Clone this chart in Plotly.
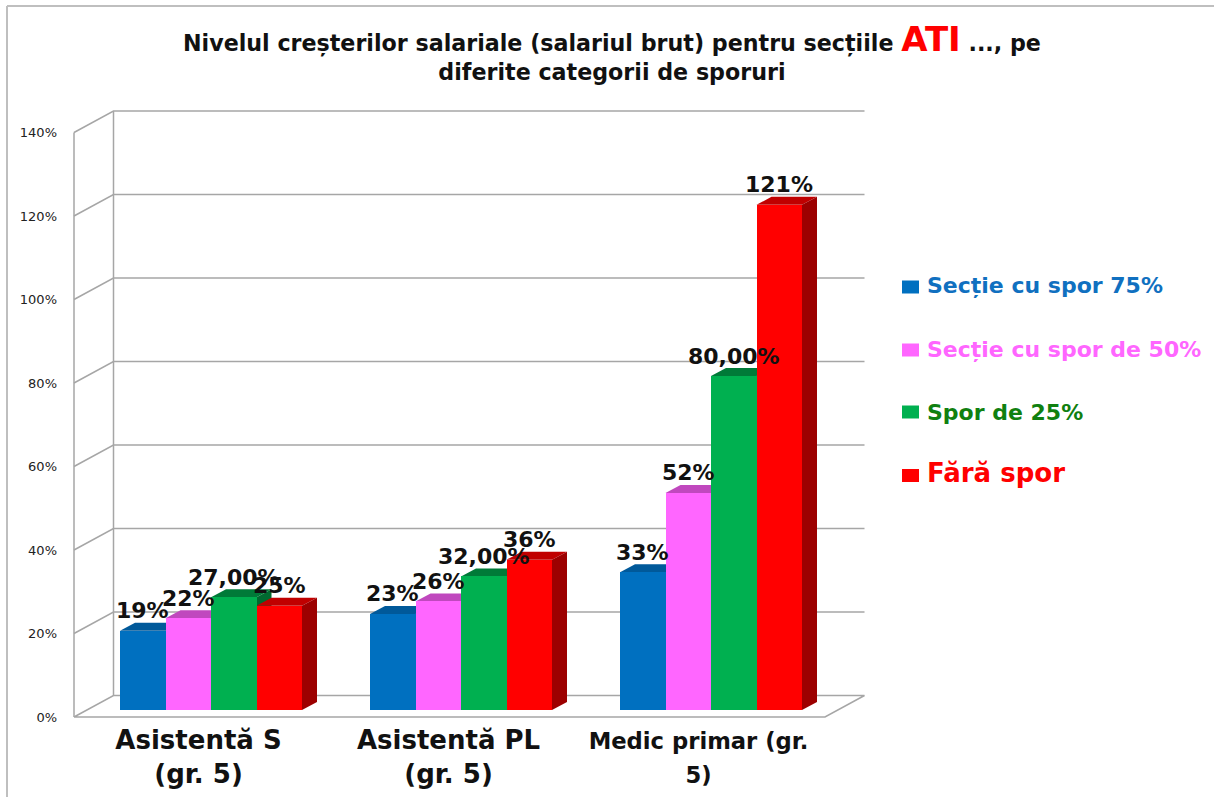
import plotly.graph_objects as go

categories = ["<b>Asistentă S<br>(gr. 5)</b>", "<b>Asistentă PL<br>(gr. 5)</b>",
              '<b><span style="font-size:22.7px">Medic primar (gr.</span><br><span style="font-size:22.7px">5)</span></b>']
series_names = ["Secție cu spor 75%", "Secție cu spor de 50%", "Spor de 25%", "Fără spor"]
v75 = [19, 23, 33]
v50 = [22, 26, 52]
v25 = [27, 32, 80]
v0 = [25, 36, 121]
labels75 = ["19%", "23%", "33%"]
labels50 = ["22%", "26%", "52%"]
labels25 = ["27,00%", "32,00%", "80,00%"]
labels0 = ["25%", "36%", "121%"]
tick_values = [0, 20, 40, 60, 80, 100, 120, 140]
tick_labels = ["0%", "20%", "40%", "60%", "80%", "100%", "120%", "140%"]

values = [v75, v50, v25, v0]
texts = [labels75, labels50, labels25, labels0]
front = ["#0070C0", "#FF66FF", "#00B050", "#FF0000"]
top = ["#00599A", "#C048BE", "#007A38", "#C00000"]
side = ["#004E86", "#A03CA0", "#006A30", "#9C0000"]
legend_colors = ["#1070C0", "#FF66FF", "#108010", "#FF0000"]

W, H = 1214, 797
L, R, T, B = 60, 880, 95, 720   # plot area in window pixels
BASE_PX = 710.0
PX_PER_UNIT = 4.175
GROUP_PX = 250.0
FIRST_CENTER_PX = 211.0
BAR_PX = 45.5
FONT = "DejaVu Sans"


def xv(px):
    return (px - FIRST_CENTER_PX) / GROUP_PX


def yv(px):
    return (BASE_PX - px) / PX_PER_UNIT


def pxx(px):
    return (px - L) / (R - L)


def pxy(px):
    return (B - px) / (B - T)


DX = 15 / GROUP_PX       # bar depth, x
DY = 8 / PX_PER_UNIT     # bar depth, y
WALL_DX = 39.5 / GROUP_PX
WALL_DY = 21.5 / PX_PER_UNIT
AXIS_SHIFT = -7 / PX_PER_UNIT   # the front of the box sits below the bars' base
w = BAR_PX / GROUP_PX

fig = go.Figure()
GRID = "#A6A6A6"
x0_ax = xv(74)
x1_ax = xv(825)

# walls: back grid lines and left-side diagonals
for t in tick_values:
    yf = t + AXIS_SHIFT
    yb = yf + WALL_DY
    if t == 0:
        xs = [x0_ax, x0_ax + WALL_DX, x1_ax + WALL_DX, x1_ax, x0_ax]
        ys = [yf, yb, yb, yf, yf]
    else:
        xs = [x0_ax, x0_ax + WALL_DX, x1_ax + WALL_DX]
        ys = [yf, yb, yb]
    fig.add_trace(go.Scatter(x=xs, y=ys, mode="lines", line=dict(color=GRID, width=1.5),
                             hoverinfo="skip", showlegend=False))
# vertical edges
fig.add_trace(go.Scatter(x=[x0_ax, x0_ax], y=[AXIS_SHIFT, 140 + AXIS_SHIFT], mode="lines",
                         line=dict(color=GRID, width=1.5), hoverinfo="skip", showlegend=False))
fig.add_trace(go.Scatter(x=[x0_ax + WALL_DX, x0_ax + WALL_DX],
                         y=[AXIS_SHIFT + WALL_DY, 140 + AXIS_SHIFT + WALL_DY], mode="lines",
                         line=dict(color=GRID, width=1.5), hoverinfo="skip", showlegend=False))

# 3D faces, left to right
for c in range(len(categories)):
    for s in range(len(series_names)):
        v = values[s][c]
        xl = c + (s - 2) * w
        xr = xl + w
        fig.add_trace(go.Scatter(x=[xl, xl + DX, xr + DX, xr, xl], y=[v, v + DY, v + DY, v, v],
                                 fill="toself", fillcolor=top[s], mode="none",
                                 hoverinfo="skip", showlegend=False))
        fig.add_trace(go.Scatter(x=[xr, xr + DX, xr + DX, xr, xr], y=[0, DY, v + DY, v, 0],
                                 fill="toself", fillcolor=side[s], mode="none",
                                 hoverinfo="skip", showlegend=False))

# front faces, on an overlaying pair of axes so that they cover the walls and sides
for s, name in enumerate(series_names):
    fig.add_trace(go.Bar(x=[i + (s - 1.5) * w for i in range(len(categories))], y=values[s],
                         width=w, name=name, marker=dict(color=front[s], line=dict(width=0)),
                         showlegend=False, xaxis="x2", yaxis="y2"))

# data labels
for s in range(len(series_names)):
    for c in range(len(categories)):
        fig.add_annotation(x=c + (s - 1.5) * w, y=values[s][c] + 20 / PX_PER_UNIT,
                           text="<b>%s</b>" % texts[s][c], showarrow=False,
                           xanchor="center", yanchor="middle",
                           font=dict(family=FONT, size=22, color="#111111"))

# legend as text at the right
legend_square_px = [287, 350, 412, 475.5]
legend_text_px = [286, 350, 412, 473]
legend_sizes = [22, 22, 22, 26]
for s, name in enumerate(series_names):
    fig.add_shape(type="rect", xref="paper", yref="paper",
                  x0=pxx(902), x1=pxx(919),
                  y0=pxy(legend_square_px[s] + 6.5), y1=pxy(legend_square_px[s] - 6.5),
                  fillcolor=front[s], line_width=0)
    fig.add_annotation(xref="paper", yref="paper", x=pxx(925),
                       y=pxy(legend_text_px[s]), text="<b>%s</b>" % name, showarrow=False,
                       xanchor="left", yanchor="middle",
                       font=dict(family=FONT, size=legend_sizes[s], color=legend_colors[s]))

# title
fig.add_annotation(xref="paper", yref="paper", x=pxx(612), y=pxy(52),
                   text='<b>Nivelul creșterilor salariale (salariul brut) pentru secțiile '
                        '<span style="font-size:34px;color:#FF0000">ATI</span> ..., pe<br>'
                        'diferite categorii de sporuri</b>',
                   showarrow=False, xanchor="center", yanchor="middle", align="center",
                   font=dict(family=FONT, size=22.2, color="#111111"))

# frame
fig.add_shape(type="line", xref="paper", yref="paper", x0=pxx(7), x1=pxx(7),
              y0=pxy(797), y1=pxy(6), line=dict(color="#BFBFBF", width=2))
fig.add_shape(type="line", xref="paper", yref="paper", x0=pxx(7), x1=pxx(1214),
              y0=pxy(6), y1=pxy(6), line=dict(color="#BFBFBF", width=2))

xrange_ = [xv(L), xv(R)]
yrange_ = [yv(B), yv(T)]
fig.update_layout(
    width=W, height=H, autosize=False, barmode="overlay", bargap=0,
    margin=dict(l=L, r=W - R, t=T, b=H - B, autoexpand=False),
    paper_bgcolor="white", plot_bgcolor="rgba(0,0,0,0)", showlegend=False,
    xaxis=dict(range=xrange_, showgrid=False, zeroline=False, showline=False, automargin=False,
               tickmode="array", tickvals=[-0.05, 0.95, 1.95], ticktext=categories,
               ticks="", ticklabelstandoff=2,
               tickfont=dict(family=FONT, size=26, color="#111111")),
    yaxis=dict(range=yrange_, showgrid=False, zeroline=False, showline=False, automargin=False,
               tickmode="array", tickvals=[t + AXIS_SHIFT for t in tick_values], ticktext=tick_labels,
               ticks="", ticklabelstandoff=2,
               tickfont=dict(family=FONT, size=13, color="#222222")),
    xaxis2=dict(range=xrange_, overlaying="x", visible=False),
    yaxis2=dict(range=yrange_, overlaying="y", visible=False),
)

fig.write_html("out.html", config={"displayModeBar": False},
               post_script="document.body.style.margin='0';document.body.style.overflow='hidden';")
